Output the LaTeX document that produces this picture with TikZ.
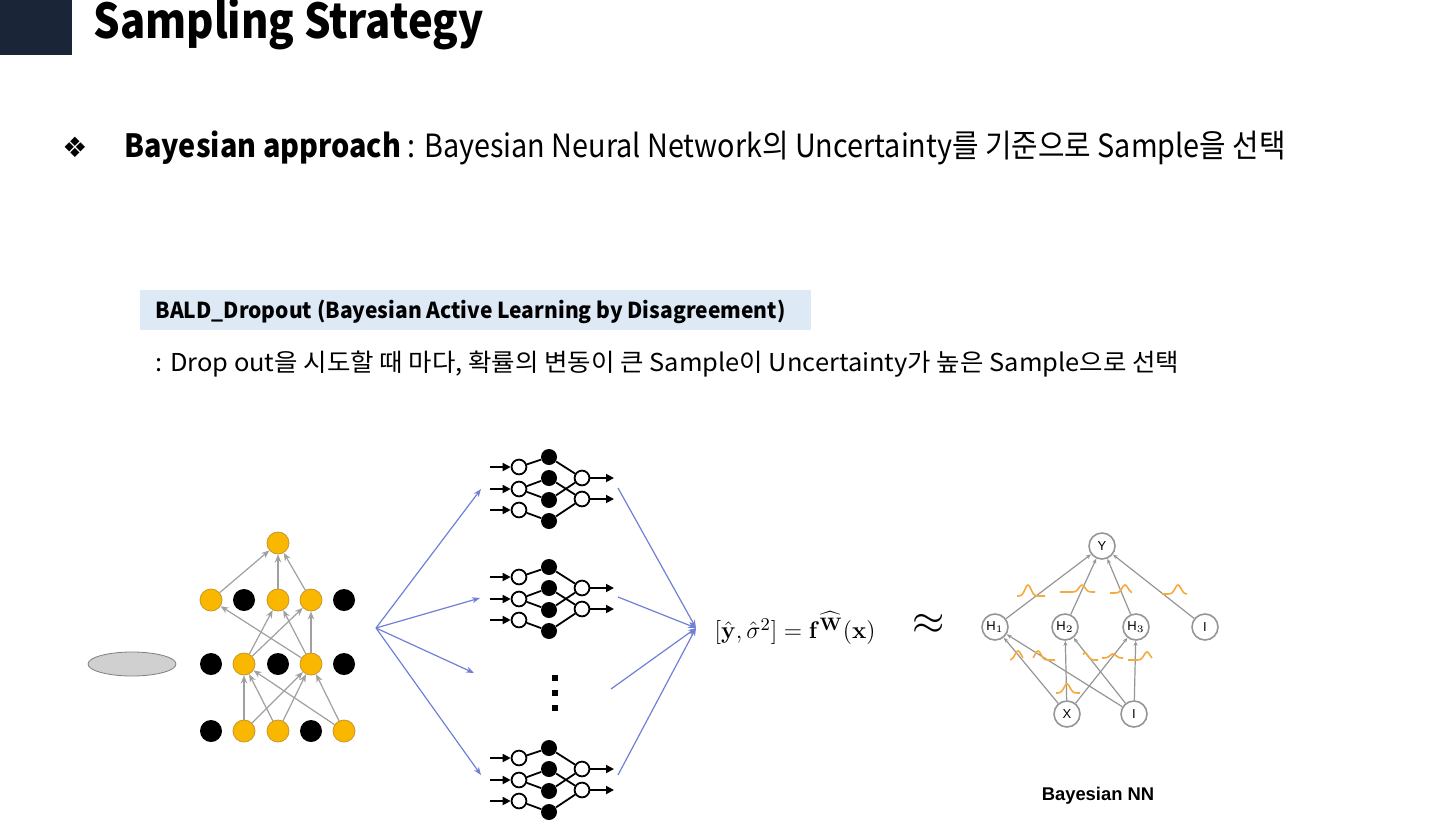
\documentclass[tikz,border=0pt]{standalone}
\usepackage[no-math]{fontspec}
\setmainfont{Noto Sans CJK KR}
\newfontfamily\dejavu{DejaVu Sans}
\newfontfamily\lib{Liberation Sans}
\usetikzlibrary{arrows.meta,shapes.geometric}
\definecolor{navy}{RGB}{27,37,56}
\definecolor{boxblue}{RGB}{222,233,246}
\definecolor{nyel}{RGB}{250,183,0}
\definecolor{nyelb}{RGB}{200,150,40}
\definecolor{edgegray}{RGB}{160,160,160}
\definecolor{fanblue}{RGB}{112,128,214}
\definecolor{bgray}{RGB}{150,150,150}
\definecolor{borange}{RGB}{245,170,60}
\definecolor{ellgray}{RGB}{208,208,208}
\newcommand\snet[2]{%
\begin{scope}[shift={(0,#2)}]
\node[hol] (#1i1) at (519,467) {};
\node[hol] (#1i2) at (519,489) {};
\node[hol] (#1i3) at (519,510) {};
\node[sblk] (#1b1) at (549,457) {};
\node[sblk] (#1b2) at (549,478) {};
\node[sblk] (#1b3) at (549,500) {};
\node[sblk] (#1b4) at (549,521) {};
\node[hol] (#1o1) at (582,478) {};
\node[hol] (#1o2) at (582,499) {};
\coordinate (#1s1) at (490,467);
\coordinate (#1s2) at (490,489);
\coordinate (#1s3) at (490,510);
\coordinate (#1e1) at (614,478);
\coordinate (#1e2) at (614,499);
\draw[narr] (#1s1) -- (#1i1);
\draw[narr] (#1s2) -- (#1i2);
\draw[narr] (#1s3) -- (#1i3);
\draw[nline] (#1i1) -- (#1b1);
\draw[nline] (#1i2) -- (#1b2);
\draw[nline] (#1i2) -- (#1b3);
\draw[nline] (#1i3) -- (#1b4);
\draw[nline] (#1b1) -- (#1o1);
\draw[nline] (#1b3) -- (#1o1);
\draw[nline] (#1b2) -- (#1o2);
\draw[nline] (#1b4) -- (#1o2);
\draw[narr] (#1o1) -- (#1e1);
\draw[narr] (#1o2) -- (#1e2);
\end{scope}}
\newcommand\bump[5]{% peak x, base y, left extent, right extent, height
\draw[bumpst] plot[domain=-#3:#4,samples=40,smooth] ({#1+\x},{#2-#5*exp(-(\x*\x)/18)});}
\begin{document}
\begin{tikzpicture}[x=0.5pt,y=-0.5pt,
 yel/.style={circle, fill=nyel, draw=nyelb, line width=0.4pt, minimum size=11pt, inner sep=0},
 blk/.style={circle, fill=black, minimum size=11pt, inner sep=0},
 gedge/.style={draw=edgegray, line width=0.6pt, -{Stealth[length=4pt,width=3.2pt]}},
 hol/.style={circle, draw=black, fill=white, line width=0.9pt, minimum size=7.4pt, inner sep=0},
 sblk/.style={circle, fill=black, minimum size=8pt, inner sep=0},
 nline/.style={black, line width=0.9pt},
 narr/.style={black, line width=0.9pt, -{Triangle[length=4pt,width=4pt]}},
 fan/.style={draw=fanblue, line width=0.6pt, -{Stealth[length=4pt,width=3pt]}},
 bnode/.style={circle, draw=bgray, line width=0.8pt, minimum size=13pt, inner sep=0, font=\lib\fontsize{6.5}{7}\selectfont},
 bedge/.style={draw=bgray, line width=0.6pt, -{Stealth[length=2.5pt,width=2pt]}},
 bumpst/.style={draw=borange, line width=0.8pt},
]
\useasboundingbox (0,0) rectangle (1440,826);
\fill[white] (0,0) rectangle (1440,826);
\fill[navy] (0,0) rectangle (72,55);
\node[anchor=base west, font=\bfseries\fontsize{24}{28}\selectfont, inner sep=0] (title) at (93,38) {\scalebox{0.87}[1]{Sampling Strategy}};
\node[font=\dejavu\fontsize{14}{15}\selectfont, inner sep=0] (bul) at (75,147) {❖};
\node[anchor=base west, font=\fontsize{16}{18}\selectfont, inner sep=0] (bline) at (124,157) {\scalebox{0.9}[1]{{\bfseries Bayesian approach} : Bayesian Neural Network의 Uncertainty를 기준으로 Sample을 선택}};
\fill[boxblue] (140,290) rectangle (811,330);
\node[anchor=base west, font=\bfseries\fontsize{11}{13}\selectfont, inner sep=0] (bald) at (155,318) {\scalebox{0.955}[1]{BALD\_Dropout (Bayesian Active Learning by Disagreement)}};
\node[anchor=base west, font=\fontsize{12.3}{14}\selectfont, inner sep=0] (desc) at (155,371) {\scalebox{1.035}[1]{: Drop out을 시도할 때 마다, 확률의 변동이 큰 Sample이 Uncertainty가 높은 Sample으로 선택}};
% left network
\node[draw=gray, fill=ellgray, ellipse, minimum width=44pt, minimum height=12pt, inner sep=0, line width=0.4pt] (ell) at (132,664) {};
\node[yel] (l1) at (278,543) {};
\node[yel] (a1) at (211,600) {};
\node[blk] (a2) at (244,600) {};
\node[yel] (a3) at (278,600) {};
\node[yel] (a4) at (311,600) {};
\node[blk] (a5) at (344,600) {};
\node[blk] (b1) at (211,664) {};
\node[yel] (b2) at (244,664) {};
\node[blk] (b3) at (278,664) {};
\node[yel] (b4) at (311,664) {};
\node[blk] (b5) at (344,664) {};
\node[blk] (c1) at (211,731) {};
\node[yel] (c2) at (244,731) {};
\node[yel] (c3) at (278,731) {};
\node[blk] (c4) at (311,731) {};
\node[yel] (c5) at (344,731) {};
\foreach \s/\t in {a1/l1,a3/l1,a4/l1,b2/a3,b2/a4,b4/a1,b4/a3,b4/a4,c2/b2,c2/b4,c3/b2,c3/b4,c5/b2,c5/b4}
  \draw[gedge] (\s) -- (\t);
% small nets
\snet{p}{0}
\snet{q}{110}
\snet{r}{291}
\foreach \yy [count=\k] in {678,693,708}
  \node[fill=black, minimum size=3.2pt, inner sep=0] (dot\k) at (555,\yy) {};
% fans
\coordinate (fo) at (376,628);
\coordinate (f1) at (481,489);
\coordinate (f2) at (480,598);
\coordinate (f3) at (474,673);
\coordinate (f4) at (481,775);
\foreach \k in {1,2,3,4} \draw[fan] (fo) -- (f\k);
\coordinate (rc) at (696,628);
\coordinate (g1) at (618,488);
\coordinate (g2) at (618,597);
\coordinate (g3) at (611,689);
\coordinate (g4) at (618,775);
\foreach \k in {1,2,3,4} \draw[fan] (g\k) -- (rc);
\node[font=\fontsize{13.2}{16}\selectfont, inner sep=0] (fm) at (795,628) {$[\hat{\mathbf{y}},\hat{\sigma}^2]=\mathbf{f}^{\widehat{\mathbf{W}}}(\mathbf{x})$};
\node[font=\fontsize{22}{22}\selectfont, inner sep=0] (apx) at (929,624) {$\approx$};
% Bayesian NN
\node[bnode] (Y) at (1102,546) {Y};
\node[bnode] (H1) at (995,627) {H$_1$};
\node[bnode] (H2) at (1065,627) {H$_2$};
\node[bnode] (H3) at (1136,627) {H$_3$};
\node[bnode] (I1) at (1205,627) {I};
\node[bnode] (X) at (1067,714) {X};
\node[bnode] (I2) at (1134,714) {I};
\foreach \s/\t in {H1/Y,H2/Y,H3/Y,I1/Y,X/H1,X/H2,X/H3,I2/H1,I2/H2,I2/H3}
  \draw[bedge] (\s) -- (\t);
\bump{1028}{596}{11}{17}{11}
\bump{1082}{592}{22}{13}{7}
\bump{1125}{593}{15}{7}{8}
\bump{1178}{594}{16}{9}{9}
\bump{1018}{660}{8}{5}{9}
\bump{1038}{660}{5}{17}{9}
\bump{1085}{660}{2}{13}{7}
\bump{1113}{658}{11}{10}{4}
\bump{1147}{660}{19}{5}{8}
\bump{1067}{693}{11}{13}{9}
\node[font=\lib\bfseries\fontsize{9.2}{10}\selectfont, inner sep=0] (bnn) at (1098,796) {Bayesian NN};
\end{tikzpicture}
\end{document}
